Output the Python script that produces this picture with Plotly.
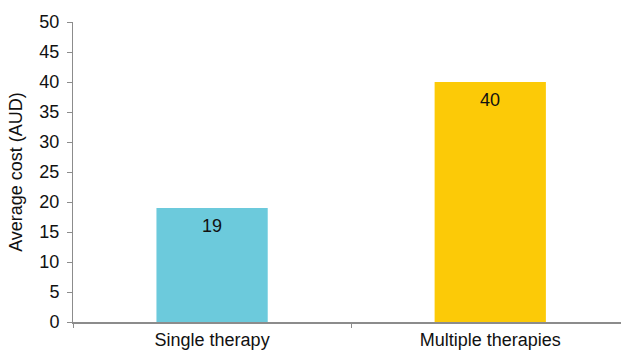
import plotly.graph_objects as go

# Average cost per patient by therapy type
categories = ["Single therapy", "Multiple therapies"]
avg_cost = [19, 40]
bar_colors = ["#6CCADC", "#FCCA07"]
y_ticks = [0, 5, 10, 15, 20, 25, 30, 35, 40, 45, 50]

FONT = "Liberation Sans, Arial, sans-serif"

fig = go.Figure()
fig.add_trace(go.Bar(
    x=categories,
    y=avg_cost,
    marker=dict(color=bar_colors, line=dict(width=0)),
    width=0.4,
    hoverinfo="skip",
))

# Value labels just inside the top of each bar
for cat, val in zip(categories, avg_cost):
    fig.add_annotation(
        x=cat, y=val, text=str(val), showarrow=False,
        yanchor="top", yshift=-6,
        font=dict(size=18, color="#111111", family=FONT),
    )

fig.update_layout(
    width=621, height=350,
    margin=dict(l=73, r=0, t=22, b=28),
    paper_bgcolor="white", plot_bgcolor="white",
    showlegend=False,
    font=dict(family=FONT, size=18, color="#111111"),
    xaxis=dict(
        type="category",
        range=[-0.5, 1.47],
        showline=True, linecolor="#8C8C8C", linewidth=2,
        ticks="outside", tickson="boundaries", ticklen=4, tickcolor="#8C8C8C", tickwidth=1,
        showgrid=False, zeroline=False,
        tickfont=dict(size=18),
    ),
    yaxis=dict(
        range=[0, 50],
        tickvals=y_ticks,
        showline=True, linecolor="#8C8C8C", linewidth=1,
        ticks="outside", ticklen=5, tickcolor="#8C8C8C",
        ticklabelstandoff=4,
        showgrid=False, zeroline=False,
        tickfont=dict(size=18),
        title=dict(text="Average cost (AUD)", font=dict(size=18), standoff=12),
    ),
)

fig.write_html("out.html")
